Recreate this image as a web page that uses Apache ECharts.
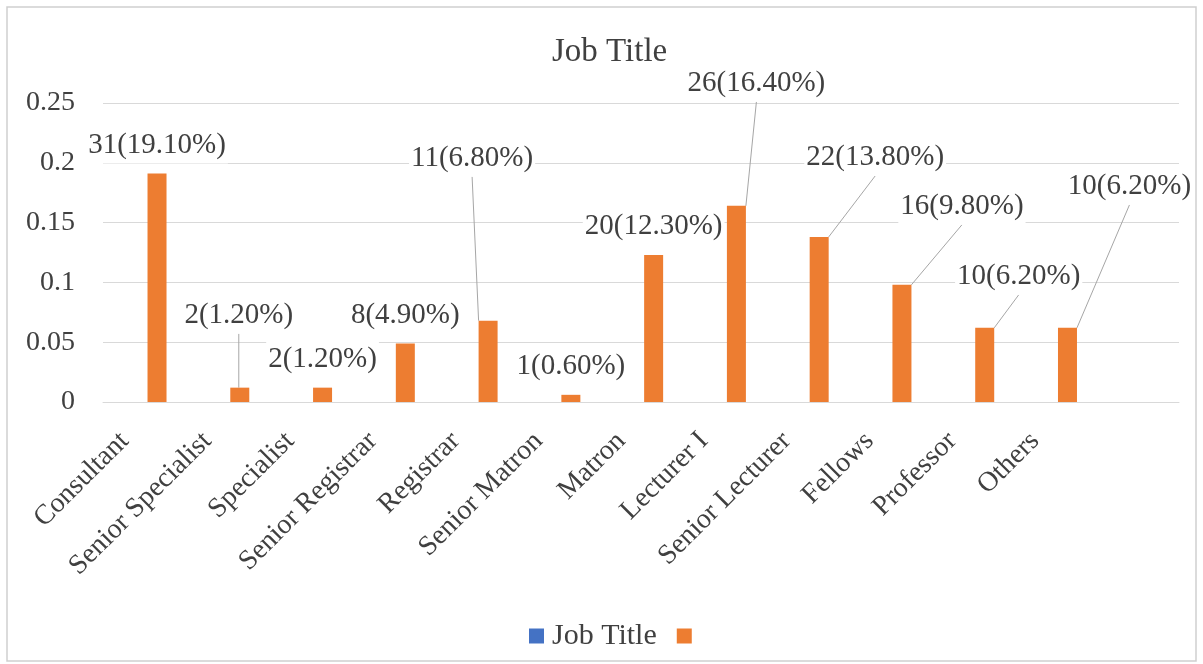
<!DOCTYPE html>
<html>
<head>
<meta charset="utf-8">
<title>Job Title</title>
<script src="https://cdn.jsdelivr.net/npm/echarts@6/dist/echarts.min.js"></script>
<style>
  html, body { margin: 0; padding: 0; background: #ffffff; }
  #chart { width: 1203px; height: 664px; }
</style>
</head>
<body>
<div id="chart"></div>
<script>
// Respondents by job title: head count and share of the sample (%)
const categories = ['Consultant', 'Senior Specialist', 'Specialist', 'Senior Registrar', 'Registrar',
  'Senior Matron', 'Matron', 'Lecturer I', 'Senior Lecturer', 'Fellows', 'Professor', 'Others'];
const counts = [31, 2, 2, 8, 11, 1, 20, 26, 22, 16, 10, 10];
const percents = [19.1, 1.2, 1.2, 4.9, 6.8, 0.6, 12.3, 16.4, 13.8, 9.8, 6.2, 6.2];
const yTicks = { min: 0, max: 0.25, step: 0.05 };

// Labels pulled away from their bars (dx, dy in px), joined back with a leader line
const labelNudge = {
  'Senior Specialist': [-1, -44],
  'Registrar': [-16, -134],
  'Lecturer I': [20, -94],
  'Senior Lecturer': [56, -51],
  'Fellows': [60, -50],
  'Professor': [34, -23],
  'Others': [62, -113]
};

const FONT = "'Liberation Serif', 'Times New Roman', serif";
const TEXT = '#404040';

const barData = categories.map((name, i) => ({
  value: percents[i] / 100,
  labelLine: { show: !!labelNudge[name] }
}));

const chart = echarts.init(document.getElementById('chart'));
chart.setOption({
  animation: false,
  backgroundColor: '#ffffff',
  textStyle: { fontFamily: FONT },
  title: {
    text: 'Job Title',
    left: 547,
    top: 31,
    textStyle: { fontFamily: FONT, fontSize: 33, fontWeight: 'normal', color: TEXT }
  },
  graphic: [{
    type: 'rect',
    shape: { x: 7, y: 7, width: 1189, height: 654 },
    style: { fill: 'none', stroke: '#cfcfcf', lineWidth: 1.5 },
    silent: true
  }],
  legend: {
    left: 524,
    top: 616,
    itemWidth: 15,
    itemHeight: 15,
    itemGap: 20,
    icon: 'rect',
    data: ['Job Title', ' '],
    textStyle: { fontFamily: FONT, fontSize: 30, color: TEXT, padding: [0, 0, 0, 3] }
  },
  grid: { left: 103, right: 24, top: 103, bottom: 262 },
  xAxis: {
    type: 'category',
    // one trailing empty band keeps the plot area as wide as the gridlines
    data: categories.concat(['']),
    axisLine: { show: true, lineStyle: { color: '#d9d9d9' } },
    axisTick: { show: false },
    axisLabel: {
      interval: 0,
      rotate: 45,
      margin: 15,
      padding: [0, 28, 0, 0],
      fontFamily: FONT,
      fontSize: 28,
      color: TEXT
    }
  },
  yAxis: {
    type: 'value',
    min: yTicks.min,
    max: yTicks.max,
    interval: yTicks.step,
    axisLine: { show: false },
    axisTick: { show: false },
    axisLabel: { margin: 28, fontFamily: FONT, fontSize: 28, color: TEXT },
    splitLine: { lineStyle: { color: '#d9d9d9', width: 1 } }
  },
  series: [
    {
      name: 'Job Title',
      type: 'bar',
      data: [],
      barWidth: 19,
      barGap: '33%',
      itemStyle: { color: '#4472C4' }
    },
    {
      name: ' ',
      type: 'bar',
      data: barData,
      barWidth: 19,
      barGap: '33%',
      itemStyle: { color: '#ED7D31' },
      label: {
        show: true,
        position: 'top',
        distance: 10,
        fontFamily: FONT,
        fontSize: 29,
        color: TEXT,
        backgroundColor: '#ffffff',
        padding: [4, 2],
        formatter: p => counts[p.dataIndex] + '(' + percents[p.dataIndex].toFixed(2) + '%)'
      },
      labelLine: {
        lineStyle: { color: '#a6a6a6', width: 1 }
      },
      labelLayout: p => {
        const n = labelNudge[categories[p.dataIndex]];
        return n ? { dx: n[0], dy: n[1] } : {};
      }
    }
  ]
});
</script>
</body>
</html>
